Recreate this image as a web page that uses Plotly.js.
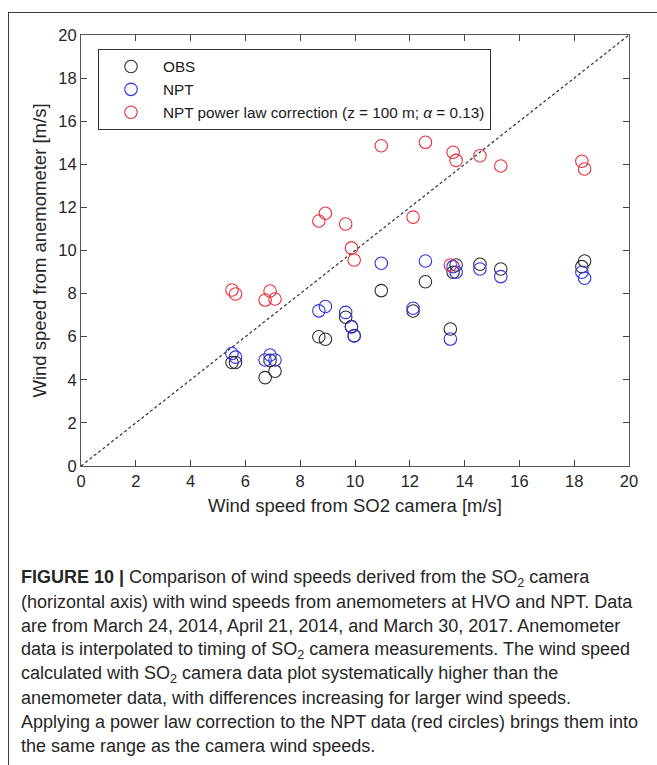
<!DOCTYPE html>
<html>
<head>
<meta charset="utf-8">
<script src="https://cdn.plot.ly/plotly-3.0.1.min.js"></script>
<style>
  html, body { margin: 0; padding: 0; background: #fff; }
  #wrap { position: relative; width: 657px; height: 765px; overflow: hidden; }
  #chart { position: absolute; left: 0; top: 0; width: 657px; height: 765px; }
  #frame { position: absolute; left: 8px; top: 12px; width: 700px; height: 800px;
           border-left: 1px solid #3a3a3a; border-top: 1px solid #3a3a3a; pointer-events: none; }
</style>
</head>
<body>
<div id="wrap">
  <div id="chart"></div>
  <div id="frame"></div>
</div>
<script>
// Wind speed from SO2 camera [m/s]
const cameraSpeed = [5.51, 5.64, 6.72, 6.90, 7.08, 8.68, 8.92, 9.66, 9.87, 9.97,
                     10.96, 12.12, 12.57, 13.48, 13.58, 13.69, 14.56, 15.32, 18.28, 18.38];
// Anemometer wind speeds [m/s]
const obsSpeed = [4.80, 4.80, 4.10, 4.90, 4.40, 6.00, 5.88, 6.90, 6.47, 6.05,
                  8.14, 7.19, 8.55, 6.36, 8.99, 9.33, 9.36, 9.14, 9.25, 9.51];
const nptSpeed = [5.22, 5.05, 4.92, 5.15, 4.92, 7.20, 7.40, 7.13, 6.45, 6.03,
                  9.41, 7.32, 9.51, 5.89, 9.25, 8.99, 9.14, 8.79, 8.99, 8.71];
const nptCorrected = [8.17, 7.98, 7.70, 8.12, 7.75, 11.37, 11.73, 11.23, 10.12, 9.56,
                      14.86, 11.55, 15.02, 9.33, 14.56, 14.18, 14.40, 13.92, 14.14, 13.78];
// 1:1 line
const oneToOne = [0, 20];
const seriesNames = ["OBS", "NPT", "NPT power law correction (z = 100 m; <i>α</i> = 0.13)"];
const tickVals = [0, 2, 4, 6, 8, 10, 12, 14, 16, 18, 20];

const captionLines = [
  "<b>FIGURE 10 |</b> Comparison of wind speeds derived from the SO<sub>2</sub> camera",
  "(horizontal axis) with wind speeds from anemometers at HVO and NPT. Data",
  "are from March 24, 2014, April 21, 2014, and March 30, 2017. Anemometer",
  "data is interpolated to timing of SO<sub>2</sub> camera measurements. The wind speed",
  "calculated with SO<sub>2</sub> camera data plot systematically higher than the",
  "anemometer data, with differences increasing for larger wind speeds.",
  "Applying a power law correction to the NPT data (red circles) brings them into",
  "the same range as the camera wind speeds."
];

const W = 657, H = 765;
const M = { l: 81, r: 28, t: 35, b: 299 };
const PW = W - M.l - M.r, PH = H - M.t - M.b;
const px2x = (px) => (px - M.l) / PW;
const py2y = (py) => (H - M.b - py) / PH;

const mk = (c) => ({ symbol: "circle-open", size: 12.5, color: c, line: { width: 1.1, color: c } });

const traces = [
  { x: oneToOne, y: oneToOne, mode: "lines", showlegend: false, hoverinfo: "skip",
    line: { color: "#3c3c3c", width: 1.3, dash: "3px,2.5px" } },
  { x: cameraSpeed, y: obsSpeed, mode: "markers", name: seriesNames[0], marker: mk("#2e2e2e") },
  { x: cameraSpeed, y: nptSpeed, mode: "markers", name: seriesNames[1], marker: mk("#3232e6") },
  { x: cameraSpeed, y: nptCorrected, mode: "markers", name: seriesNames[2], marker: mk("#e8303a") }
];

const axisCommon = {
  range: [0, 20], tickvals: tickVals, ticktext: tickVals.map(String),
  ticks: "inside", ticklen: 6, tickwidth: 1, tickcolor: "#444",
  showline: true, linecolor: "#555", linewidth: 1, mirror: "ticks",
  showgrid: false, zeroline: false, automargin: false,
  tickfont: { family: "Liberation Sans, Arial, sans-serif", size: 16.5, color: "#262626" }
};

const annotations = captionLines.map((t, i) => ({
  text: t, xref: "paper", yref: "paper",
  x: px2x(19), y: py2y(578 + i * 24),
  xanchor: "left", yanchor: "middle", showarrow: false, align: "left",
  font: { family: "Liberation Sans, Arial, sans-serif", size: 18, color: "#262626" }
}));

const layout = {
  width: W, height: H, margin: M,
  paper_bgcolor: "#fff", plot_bgcolor: "#fff",
  font: { family: "Liberation Sans, Arial, sans-serif", color: "#262626" },
  xaxis: Object.assign({}, axisCommon, {
    title: { text: "Wind speed from SO2 camera [m/s]", standoff: 10,
             font: { size: 18.5, color: "#262626" } }
  }),
  yaxis: Object.assign({}, axisCommon, {
    title: { text: "Wind speed from anemometer [m/s]", standoff: 6,
             font: { size: 18.5, color: "#262626" } }
  }),
  showlegend: true,
  legend: {
    x: px2x(98), y: py2y(49), xanchor: "left", yanchor: "top",
    bgcolor: "#fff", bordercolor: "#333", borderwidth: 1,
    font: { size: 15.3, color: "#1a1a1a" }, itemwidth: 54,
    tracegroupgap: 0
  },
  annotations: annotations
};

Plotly.newPlot("chart", traces, layout, { staticPlot: true, displayModeBar: false });
</script>
</body>
</html>
